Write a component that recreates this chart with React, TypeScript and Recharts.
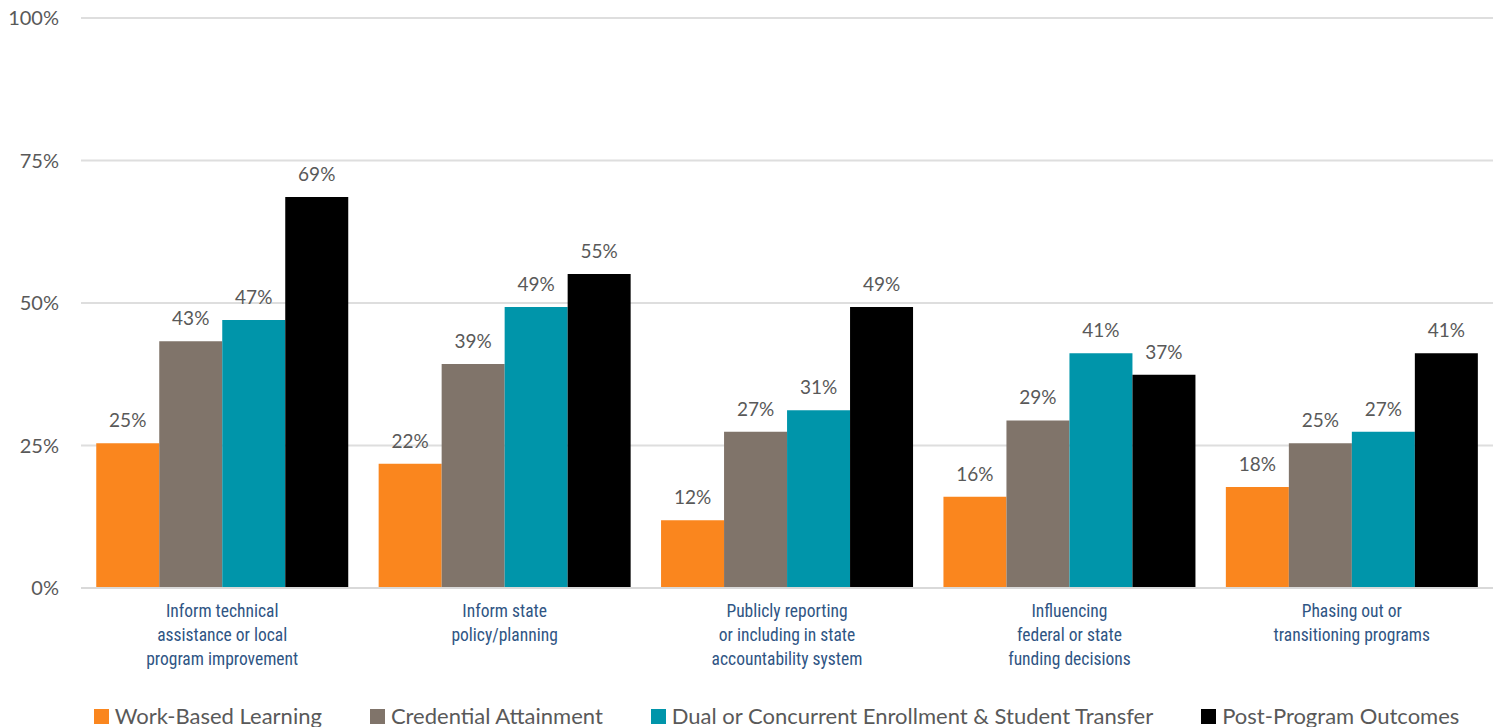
import React from "react";
import { Bar, BarChart, CartesianGrid, LabelList, Legend, XAxis, YAxis } from "recharts";

const categories = [
  ["Inform technical", "assistance or local", "program improvement"],
  ["Inform state", "policy/planning"],
  ["Publicly reporting", "or including in state", "accountability system"],
  ["Influencing", "federal or state", "funding decisions"],
  ["Phasing out or", "transitioning programs"],
];

const workBased = [25.4, 21.8, 11.9, 16.0, 17.7];
const credential = [43.3, 39.3, 27.4, 29.4, 25.4];
const dualEnrollment = [47.0, 49.3, 31.2, 41.2, 27.4];
const postProgram = [68.6, 55.1, 49.3, 37.4, 41.2];

const yTicks = [0, 25, 50, 75, 100];

const series = [
  { key: "wbl", name: "Work-Based Learning", color: "#FA861E", values: workBased },
  { key: "cred", name: "Credential Attainment", color: "#80746A", values: credential },
  { key: "dual", name: "Dual or Concurrent Enrollment & Student Transfer", color: "#0095AA", values: dualEnrollment },
  { key: "post", name: "Post-Program Outcomes", color: "#000000", values: postProgram },
];

const data = categories.map((c, i) => {
  const row: Record<string, any> = { cat: c.join("|") };
  series.forEach(s => (row[s.key] = s.values[i]));
  return row;
});

const numFont = "Lato, 'Open Sans', sans-serif";
const catFont = "'Liberation Sans Narrow', 'Roboto Condensed', Roboto, sans-serif";

function CatTick({ x, y, payload }: any) {
  const lines = String(payload.value).split("|");
  return (
    <text x={x} y={y + 21} textAnchor="middle" fill="#2F5584" fontFamily={catFont} fontSize={17.5}>
      {lines.map((l, i) => (
        <tspan key={i} x={x} dy={i === 0 ? 0 : 24}>
          {l}
        </tspan>
      ))}
    </text>
  );
}

function LegendContent() {
  return (
    <div style={{ display: "flex", justifyContent: "center", gap: 48, fontFamily: numFont, fontSize: 22, color: "#595959", lineHeight: "26px", marginLeft: 60 }}>
      {series.map(s => (
        <div key={s.key} style={{ display: "flex", alignItems: "center" }}>
          <span style={{ width: 15, height: 15, background: s.color, marginRight: 6, display: "inline-block" }} />
          {s.name}
        </div>
      ))}
    </div>
  );
}

export default function App() {
  return (
    <div style={{ position: "absolute", left: 0, top: 0, background: "#fff" }}>
      <BarChart
        width={1498}
        height={727}
        data={data}
        margin={{ top: 18, right: 5, left: 0, bottom: 0 }}
        barGap={0}
        barCategoryGap="5.4%"
      >
        <CartesianGrid stroke="#DEDEDE" strokeWidth={2} vertical={false} />
        <XAxis
          dataKey="cat"
          tick={<CatTick />}
          tickLine={false}
          axisLine={{ stroke: "#D9D9D9", strokeWidth: 2 }}
          height={115}
          interval={0}
        />
        <YAxis
          domain={[0, 100]}
          ticks={yTicks}
          tickFormatter={v => `${v}%`}
          tick={{ fill: "#595959", fontSize: 20, fontFamily: numFont }}
          tickLine={false}
          axisLine={false}
          tickMargin={16}
          width={81}
        />
        <Legend verticalAlign="bottom" height={24} content={<LegendContent />} />
        {series.map(s => (
          <Bar key={s.key} dataKey={s.key} name={s.name} fill={s.color} isAnimationActive={false}>
            <LabelList
              dataKey={s.key}
              position="top"
              offset={16}
              formatter={(v: any) => `${Math.round(v)}%`}
              style={{ fill: "#595959", fontSize: 19, fontFamily: numFont }}
            />
          </Bar>
        ))}
      </BarChart>
    </div>
  );
}
